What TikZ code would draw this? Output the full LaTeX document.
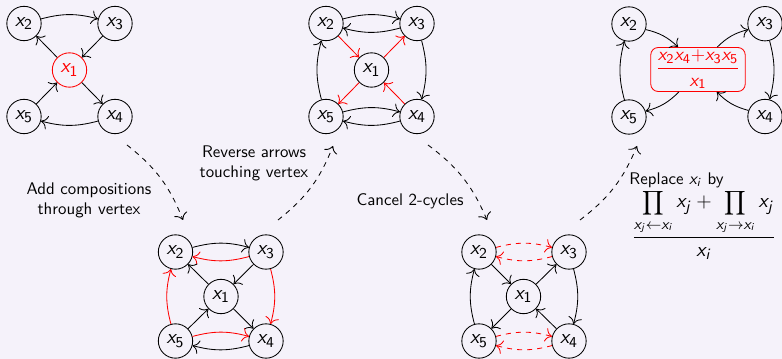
\documentclass[tikz,border=0pt]{standalone}
\usepackage{amsmath}
\usetikzlibrary{calc,arrows.meta}
\DeclareMathAlphabet{\mathsfsl}{OT1}{cmss}{m}{sl}
\DeclareMathAlphabet{\mathsfup}{OT1}{cmss}{m}{n}
\newcommand{\X}[1]{\ensuremath{\mathsfsl{x}_{\mathsfup{#1}}}}
\newcommand{\XI}[1]{\ensuremath{\mathsfsl{x}_{\mathsfsl{#1}}}}
\newcommand{\smallprod}{\mathop{\hbox{\fontsize{10}{12}\selectfont$\displaystyle\prod$}}\limits}
\definecolor{bgc}{RGB}{245,242,250}
\begin{document}
\begin{tikzpicture}[x=0.5935pt,y=-0.5935pt,line width=0.5pt,
  >={To[scale=1.45]},
  v/.style={circle,draw,minimum size=20.4pt,inner sep=0pt,font=\sffamily\fontsize{12.5}{15}\selectfont},
  e/.style={->},
  r/.style={->,red},
  rd/.style={->,red,dashed},
  tr/.style={->,dashed},
  lbl/.style={font=\sffamily,align=center}]
\fill[bgc] (0,0) rectangle (782,359);
\useasboundingbox (0,0) rectangle (782,359);
% Panel A
\node[v] (a2) at (24,23.5) {\X2};
\node[v] (a3) at (115,23.5) {\X3};
\node[v,red] (a1) at (69.5,70) {\X1};
\node[v] (a5) at (24,116.5) {\X5};
\node[v] (a4) at (115,116.5) {\X4};
\draw[e] (a2) to[bend left=15] (a3);
\draw[e] (a3) -- (a1);
\draw[e] (a1) -- (a2);
\draw[e] (a1) -- (a4);
\draw[e] (a5) -- (a1);
\draw[e] (a4) to[bend left=15] (a5);
% Panel B
\node[v] (b2) at (326,23.5) {\X2};
\node[v] (b3) at (417,23.5) {\X3};
\node[v] (b1) at (371.5,70) {\X1};
\node[v] (b5) at (326,116.5) {\X5};
\node[v] (b4) at (417,116.5) {\X4};
\draw[e] (b2) to[bend left=15] (b3);
\draw[e] (b3) to[bend left=15] (b2);
\draw[r] (b2) -- (b1);
\draw[r] (b1) -- (b3);
\draw[r] (b4) -- (b1);
\draw[r] (b1) -- (b5);
\draw[e] (b5) to[bend left=15] (b2);
\draw[e] (b3) to[bend left=15] (b4);
\draw[e] (b5) to[bend left=15] (b4);
\draw[e] (b4) to[bend left=15] (b5);
% Panel C
\node[v] (c2) at (629,24) {\X2};
\node[v] (c3) at (765,23.7) {\X3};
\node[draw=red,text=red,rounded corners=4.5pt,inner xsep=3pt,inner ysep=1.6pt,font=\fontsize{11}{13}\selectfont] (c1) at (698,69.5)
  {$\dfrac{\mathsfsl{x}_{\mathsfup{2}}\mathsfsl{x}_{\mathsfup{4}}{+}\mathsfsl{x}_{\mathsfup{3}}\mathsfsl{x}_{\mathsfup{5}}}{\mathsfsl{x}_{\mathsfup{1}}}$};
\node[v] (c5) at (629,117) {\X5};
\node[v] (c4) at (765,116.5) {\X4};
\draw[e] (c2) to[bend left=15] (c1);
\draw[e] (c1) to[bend left=15] (c3);
\draw[e] (c1) to[bend left=15] (c5);
\draw[e] (c4) to[bend left=15] (c1);
\draw[e] (c5) to[bend left=15] (c2);
\draw[e] (c3) to[bend left=15] (c4);
% Panel D
\node[v] (d2) at (175.5,252) {\X2};
\node[v] (d3) at (266,252) {\X3};
\node[v] (d1) at (221,296.5) {\X1};
\node[v] (d5) at (175.5,341) {\X5};
\node[v] (d4) at (266,341) {\X4};
\draw[e] (d2) to[bend left=15] (d3);
\draw[r] (d3) to[bend left=15] (d2);
\draw[e] (d1) -- (d2);
\draw[e] (d3) -- (d1);
\draw[e] (d5) -- (d1);
\draw[e] (d1) -- (d4);
\draw[r] (d5) to[bend left=15] (d2);
\draw[r] (d3) to[bend left=15] (d4);
\draw[r] (d5) to[bend left=15] (d4);
\draw[e] (d4) to[bend left=15] (d5);
% Panel E
\node[v] (e2) at (479,252) {\X2};
\node[v] (e3) at (569,252) {\X3};
\node[v] (e1) at (523.5,296.5) {\X1};
\node[v] (e5) at (479,341) {\X5};
\node[v] (e4) at (569,341) {\X4};
\draw[rd] (e2) to[bend left=15] (e3);
\draw[rd] (e3) to[bend left=15] (e2);
\draw[e] (e2) -- (e1);
\draw[e] (e1) -- (e3);
\draw[e] (e4) -- (e1);
\draw[e] (e1) -- (e5);
\draw[e] (e5) to[bend left=15] (e2);
\draw[e] (e3) to[bend left=15] (e4);
\draw[rd] (e5) to[bend left=15] (e4);
\draw[rd] (e4) to[bend left=15] (e5);
% transitions
\coordinate (t1s) at (127,145); \coordinate (t1e) at (183,220);
\coordinate (t2s) at (278,220); \coordinate (t2e) at (333,146);
\coordinate (t3s) at (428,145); \coordinate (t3e) at (487,220);
\coordinate (t4s) at (580,220); \coordinate (t4e) at (637,146);
\draw[tr] (t1s) to[bend left=15] (t1e);
\draw[tr] (t2s) to[bend right=15] (t2e);
\draw[tr] (t3s) to[bend left=15] (t3e);
\draw[tr] (t4s) to[bend right=15] (t4e);
\node[lbl] (l1) at (89,200.5) {Add compositions\\through vertex};
\node[lbl] (l2) at (254,163.5) {Reverse arrows\\touching vertex};
\node[lbl] (l3) at (410,201) {Cancel 2-cycles};
\node[lbl,anchor=west,inner sep=0pt] (l4) at (629,180) {Replace \XI{i} by};
\node[inner sep=0pt,font=\fontsize{12.4}{14}\selectfont] (l5) at (704,225) {$\dfrac{\smallprod_{\mathsfsl{x}_{\mathsfsl{j}}\leftarrow\mathsfsl{x}_{\mathsfsl{i}}}\mathsfsl{x}_{\mathsfsl{j}}+\smallprod_{\mathsfsl{x}_{\mathsfsl{j}}\rightarrow\mathsfsl{x}_{\mathsfsl{i}}}\mathsfsl{x}_{\mathsfsl{j}}}{\mathsfsl{x}_{\mathsfsl{i}}}$};
\end{tikzpicture}
\end{document}
